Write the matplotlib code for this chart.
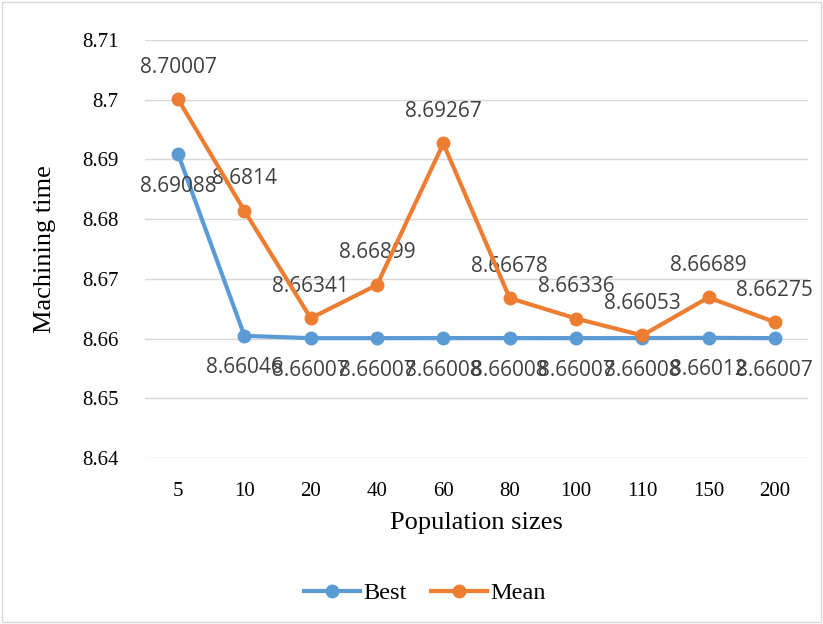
import numpy as np
import matplotlib.pyplot as plt
from matplotlib.patches import Rectangle

# Population size experiment results
pop_sizes = ['5', '10', '20', '40', '60', '80', '100', '110', '150', '200']
best = [8.69088, 8.66046, 8.66007, 8.66007, 8.66008, 8.66008, 8.66007, 8.66008, 8.66012, 8.66007]
mean = [8.70007, 8.6814, 8.66341, 8.66899, 8.69267, 8.66678, 8.66336, 8.66053, 8.66689, 8.66275]
best_labels = ['8.69088', '8.66046', '8.66007', '8.66007', '8.66008', '8.66008', '8.66007', '8.66008', '8.66012', '8.66007']
mean_labels = ['8.70007', '8.6814', '8.66341', '8.66899', '8.69267', '8.66678', '8.66336', '8.66053', '8.66689', '8.66275']
yticks = [8.64, 8.65, 8.66, 8.67, 8.68, 8.69, 8.7, 8.71]
ytick_labels = ['8.64', '8.65', '8.66', '8.67', '8.68', '8.69', '8.7', '8.71']

blue = '#5B9BD5'
orange = '#ED7D31'
serif = 'Liberation Serif'
sans = 'Open Sans'

fig = plt.figure(figsize=(8.23, 6.24), dpi=100)
ax = fig.add_axes([145 / 823, 1 - 458 / 624, (808 - 145) / 823, (458 - 40) / 624])

x = np.arange(len(pop_sizes))
ax.plot(x, best, color=blue, lw=3, marker='o', ms=9, label='Best', zorder=3)
ax.plot(x, mean, color=orange, lw=3, marker='o', ms=9, label='Mean', zorder=4)

# value labels: Best below its points, Mean above
for i in range(len(x)):
    ax.annotate(best_labels[i], (x[i], best[i]), xytext=(0, -23), textcoords='offset points',
                ha='center', va='center', fontsize=15, color='#404040', family=sans)
    ax.annotate(mean_labels[i], (x[i], mean[i]), xytext=(0, 23), textcoords='offset points',
                ha='center', va='center', fontsize=15, color='#404040', family=sans)

ax.set_xlim(-0.5, len(x) - 0.5)
ax.set_ylim(8.64, 8.71)
ax.set_yticks(yticks)
ax.set_yticklabels(ytick_labels, family=serif, fontsize=15)
ax.set_xticks(x)
ax.set_xticklabels(pop_sizes, family=serif, fontsize=15)
ax.tick_params(axis='y', length=0, pad=19)
ax.tick_params(axis='x', length=0, pad=17)
ax.grid(axis='y', color='#D9D9D9', lw=1)
ax.set_axisbelow(True)
for s in ax.spines.values():
    s.set_visible(False)

ax.set_xlabel('Population sizes', family=serif, fontsize=19, labelpad=8)
ax.set_ylabel('Machining time', family=serif, fontsize=19, labelpad=19)

leg = fig.legend(loc='center', bbox_to_anchor=(425 / 823, 1 - 593 / 624), ncol=2, frameon=False,
                 prop={'family': serif, 'size': 17.5}, handlelength=2.3, columnspacing=1.0,
                 handletextpad=0.15)

# light frame around the chart
fig.patches.append(Rectangle((0.003, 0.003), 0.994, 0.994, transform=fig.transFigure,
                             fill=False, ec='#D9D9D9', lw=1))

fig.savefig('out.png', dpi=100)
